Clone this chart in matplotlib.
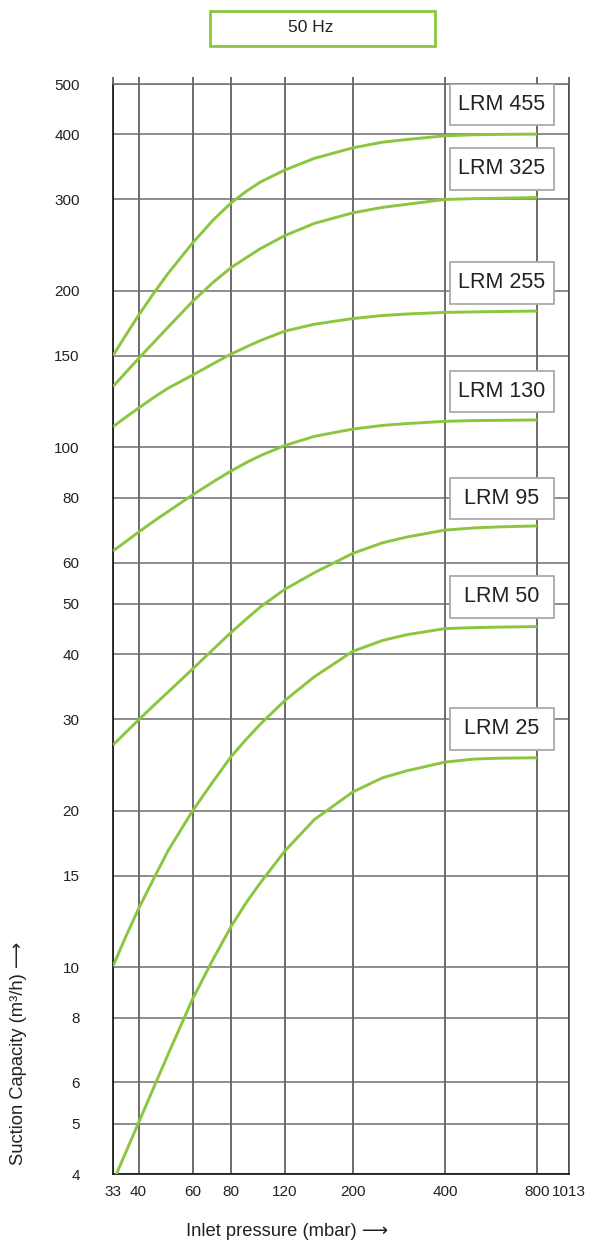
import matplotlib
matplotlib.use("Agg")
import matplotlib.pyplot as plt
from matplotlib.patches import Rectangle

plt.rcParams['font.family'] = ['Liberation Sans', 'DejaVu Sans']

# inlet pressure (mbar) and suction capacity (m3/h)
pressure = [33, 36, 40, 45, 50, 60, 70, 80, 90, 100, 120, 150, 200, 250, 300, 400, 500, 600, 800]
lrm455 = [150.1, 163, 179.5, 198.6, 216.3, 247.2, 273.5, 295, 311, 324, 341.5, 359.7,
          376.8, 386.4, 391, 397.5, 399.3, 400, 400.5]
lrm325 = [130.9, 138.5, 148.2, 159.6, 170.4, 190.8, 207.6, 221.5, 231.8, 241.2, 255.4, 269.7,
          282.5, 289.5, 293.4, 299.8, 300.9, 301.4, 302.4]
lrm255 = [109.6, 113.8, 119, 124.9, 130, 137.7, 144.8, 151.1, 156.1, 160.5, 167.3, 172.5,
          176.9, 179.3, 180.5, 181.8, 182.2, 182.5, 182.9]
lrm130 = [63.2, 65.6, 68.7, 72.2, 75.3, 81, 85.8, 90, 93.5, 96.4, 100.8, 105,
          108.4, 110.2, 111.1, 112.2, 112.6, 112.7, 112.9]
lrm95 = [26.75, 28.14, 29.9, 31.95, 33.85, 37.45, 40.85, 44, 46.77, 49.34, 53.3, 57.4,
         62.5, 65.5, 67.2, 69.3, 70, 70.3, 70.6]
lrm50 = [10.04, 11.31, 12.96, 14.87, 16.78, 19.98, 22.75, 25.37, 27.47, 29.36, 32.57, 36.2,
         40.5, 42.5, 43.6, 44.8, 45, 45.1, 45.2]
lrm25 = [3.86, 4.35, 5.02, 5.9, 6.81, 8.68, 10.35, 11.95, 13.33, 14.54, 16.72, 19.23,
         21.72, 23.13, 23.86, 24.8, 25.14, 25.23, 25.28]

series = [lrm455, lrm325, lrm255, lrm130, lrm95, lrm50, lrm25]
names = ['LRM 455', 'LRM 325', 'LRM 255', 'LRM 130', 'LRM 95', 'LRM 50', 'LRM 25']

xticks = [33, 40, 60, 80, 120, 200, 400, 800, 1013]
yticks = [4, 5, 6, 8, 10, 15, 20, 30, 40, 50, 60, 80, 100, 150, 200, 300, 400, 500]

green = '#8cc63f'

W, H = 590, 1243
fig = plt.figure(figsize=(W / 100, H / 100), dpi=100)
left, right, top, bottom = 113, 568.5, 84, 1174
ax = fig.add_axes([left / W, 1 - bottom / H, (right - left) / W, (bottom - top) / H])

ax.set_xscale('log')
ax.set_yscale('log')
ax.set_xlim(33, 1013)
ax.set_ylim(4, 500)
ax.set_xticks(xticks)
ax.set_xticklabels([str(v) for v in xticks])
ax.set_yticks(yticks)
ax.set_yticklabels([str(v) for v in yticks])
ax.minorticks_off()

ax.grid(axis='x', color='#444444', lw=1.1)
ax.grid(axis='y', color='#6e6e6e', lw=1.1)
ax.set_axisbelow(True)
for s in ['left', 'bottom']:
    ax.spines[s].set_color('#111111')
    ax.spines[s].set_linewidth(1.2)
ax.spines['top'].set_color('#6e6e6e')
ax.spines['right'].set_color('#444444')
ax.spines['top'].set_linewidth(1.1)
ax.spines['right'].set_linewidth(1.1)

ax.tick_params(axis='x', top=True, bottom=False, length=5, width=1.1,
               color='#444444', direction='out', labelsize=11, pad=3,
               labelcolor='#222222')
ax.tick_params(axis='y', length=0, pad=24, labelsize=11, labelcolor='#222222')

for vals in series:
    ax.plot(pressure, vals, color=green, lw=2.1, zorder=3,
            solid_capstyle='butt')

# label boxes (centre y in pixels)
box_y = [104.5, 169, 283, 391.5, 498.3, 597, 729]
bx0, bx1, bh = 449.5, 554.2, 41.5
for name, yc in zip(names, box_y):
    ax.add_patch(Rectangle(((bx0 - left) / (right - left), (bottom - yc - bh / 2) / (bottom - top)),
                           (bx1 - bx0) / (right - left), bh / (bottom - top),
                           transform=ax.transAxes, facecolor='white',
                           edgecolor='#aaaaaa', lw=1.3, zorder=5))
    ax.text(((bx0 + bx1) / 2 - left) / (right - left), (bottom - yc) / (bottom - top), name,
            transform=ax.transAxes, ha='center', va='center', fontsize=15.5,
            color='#222222', zorder=6)

# 50 Hz header box
fig.patches.append(Rectangle((209.5 / W, 1 - 45.5 / H), 225 / W, 34.5 / H,
                             transform=fig.transFigure, facecolor='white',
                             edgecolor=green, lw=2))
fig.text(311 / W, 1 - 27 / H, '50 Hz', ha='center', va='center', fontsize=12.5,
         color='#222222')

fig.text(287 / W, 1 - 1232 / H, 'Inlet pressure (mbar) \u27f6', ha='center', va='center',
         fontsize=13.2, color='#222222')
fig.text(19 / W, 1 - 1053 / H, 'Suction Capacity (m\u00b3/h) \u27f6', ha='center', va='center',
         rotation=90, fontsize=13.2, color='#222222')

fig.savefig('out.png', dpi=100)
